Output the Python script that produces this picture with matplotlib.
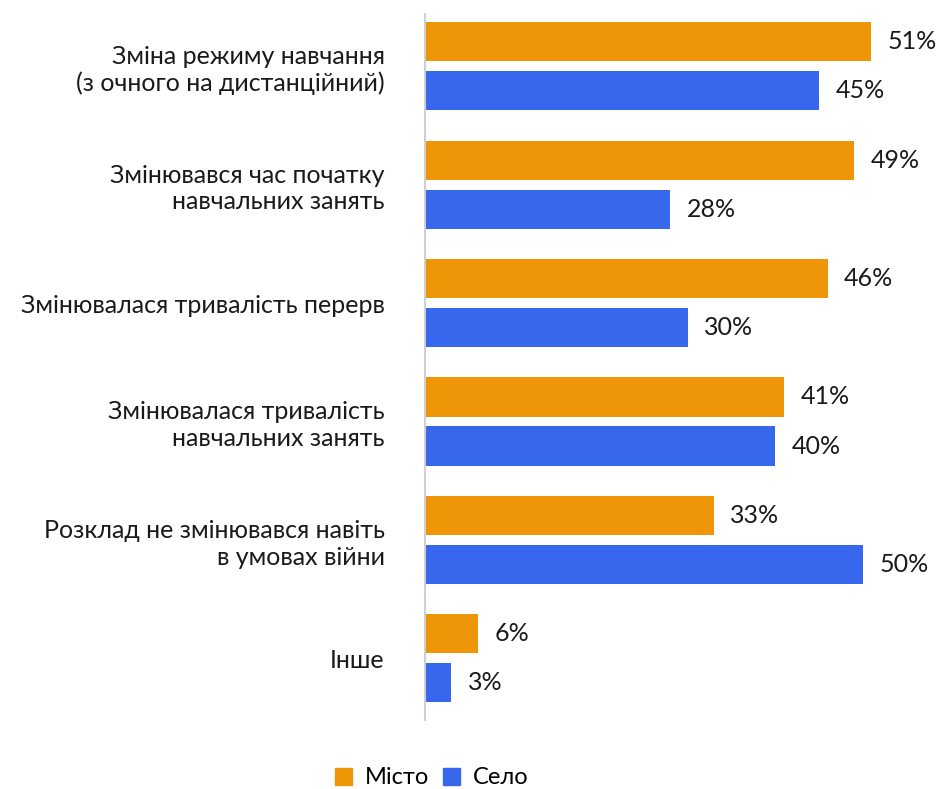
import numpy as np
import matplotlib.pyplot as plt
from matplotlib.patches import Patch

plt.rcParams['font.family'] = ['Lato', 'Noto Sans', 'DejaVu Sans']

categories = [
    'Зміна режиму навчання\n(з очного на дистанційний)',
    'Змінювався час початку\nнавчальних занять',
    'Змінювалася тривалість перерв',
    'Змінювалася тривалість\nнавчальних занять',
    'Розклад не змінювався навіть\nв умовах війни',
    'Інше',
]
misto = [51, 49, 46, 41, 33, 6]
selo = [45, 28, 30, 40, 50, 3]
series_names = ['Місто', 'Село']
orange = '#EE9508'
blue = '#3767EC'

W, H = 936, 789
fig = plt.figure(figsize=(W / 100, H / 100), dpi=100)
ax = fig.add_axes([425 / W, (H - 720) / H, (W - 425) / W, (720 - 14) / H])

y = np.arange(len(categories))
h = 0.33
off = 0.207
ax.barh(y - off, misto, height=h, color=orange, label=series_names[0])
ax.barh(y + off, selo, height=h, color=blue, label=series_names[1])

for yi, v in zip(y - off, misto):
    ax.text(v + 1.9, yi, f'{v}%', va='center', ha='left', fontsize=18, color='#1a1a1a')
for yi, v in zip(y + off, selo):
    ax.text(v + 1.9, yi, f'{v}%', va='center', ha='left', fontsize=18, color='#1a1a1a')

ax.set_xlim(0, (W - 425) / 8.75)
ax.set_ylim(5.52, -0.44)
ax.set_yticks(y)
ax.set_yticklabels(categories, fontsize=18, linespacing=1.2, color='#1a1a1a')
ax.tick_params(axis='y', length=0, pad=29)
ax.set_xticks([])
for s in ['top', 'right', 'bottom']:
    ax.spines[s].set_visible(False)
ax.spines['left'].set_color('#d0d0d0')
ax.spines['left'].set_linewidth(1.5)

handles = [Patch(color=orange), Patch(color=blue)]
fig.legend(handles, series_names, loc='center', bbox_to_anchor=(432 / W, 1 - 778 / H),
           ncol=2, frameon=False, fontsize=17, handlelength=0.7, handleheight=0.7,
           handletextpad=0.55, columnspacing=0.6)

fig.savefig('out.png', dpi=100)
